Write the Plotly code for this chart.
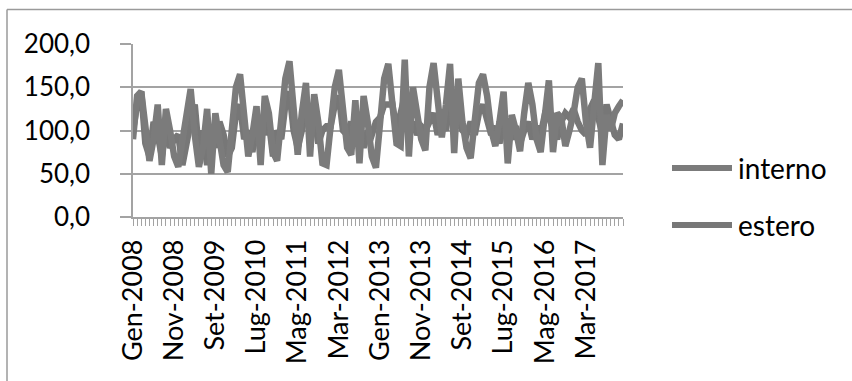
import plotly.graph_objects as go

# month labels (Italian), Gen-2008 .. Dic-2017
mesi = ["Gen", "Feb", "Mar", "Apr", "Mag", "Giu", "Lug", "Ago", "Set", "Ott", "Nov", "Dic"]
anni = list(range(2008, 2018))
categorie = [f"{m}-{a}" for a in anni for m in mesi]

interno = [
    90, 140, 145, 110, 65, 90, 130, 60, 125, 100, 70, 58,
    90, 120, 148, 95, 58, 80, 125, 50, 120, 90, 60, 52,
    100, 150, 165, 110, 70, 95, 128, 60, 140, 120, 75, 65,
    110, 160, 180, 120, 72, 120, 155, 70, 142, 110, 62, 60,
    100, 150, 170, 120, 80, 72, 135, 62, 140, 110, 70, 57,
    100, 160, 177, 130, 85, 82, 182, 70, 150, 120, 90, 77,
    150, 178, 140, 92, 130, 177, 74, 160, 110, 80, 68, 110,
    155, 165, 140, 100, 82, 110, 145, 62, 118, 100, 76, 120,
    155, 130, 90, 75, 120, 158, 75, 120, 115, 82, 100, 120,
    150, 160, 110, 80, 130, 178, 60, 118, 100, 120, 128, 135,
]

estero = [
    100, 130, 145, 85, 70, 110, 95, 70, 105, 80, 90, 95,
    60, 90, 110, 130, 75, 100, 60, 100, 80, 110, 95, 70,
    80, 120, 130, 90, 100, 75, 110, 115, 95, 110, 70, 100,
    90, 130, 145, 100, 80, 100, 125, 100, 120, 85, 100, 105,
    105, 130, 140, 100, 95, 110, 90, 100, 80, 100, 95, 110,
    115, 130, 130, 130, 100, 120, 140, 100, 110, 95, 105, 100,
    110, 120, 95, 110, 100, 135, 120, 110, 100, 95, 110, 95,
    120, 130, 110, 95, 105, 85, 110, 100, 90, 105, 85, 100,
    110, 90, 105, 95, 118, 115, 100, 90, 110, 120, 115, 125,
    110, 100, 95, 125, 135, 115, 95, 130, 110, 95, 90, 108,
]

y_ticks = [0, 50, 100, 150, 200]
y_labels = ["0,0", "50,0", "100,0", "150,0", "200,0"]
serie_nomi = ["interno", "estero"]

col_interno = "#7b7b7b"
col_estero = "#777777"
grid_col = "#a3a3a3"
FONT = "Lato"

x = list(range(len(categorie)))
xtext = [c if i % 10 == 0 else "" for i, c in enumerate(categorie)]

fig = go.Figure()
fig.add_trace(go.Scatter(x=x, y=estero, mode="lines", name=serie_nomi[1],
                         line=dict(color=col_estero, width=6.5), showlegend=False))
fig.add_trace(go.Scatter(x=x, y=interno, mode="lines", name=serie_nomi[0],
                         line=dict(color=col_interno, width=6.5), showlegend=False))

W, H = 852, 381
L, R, T, B = 133, 229, 44, 164
pw, ph = W - L - R, H - T - B


def px(xp):
    return (xp - L) / pw


def py(yp):
    return (H - B - yp) / ph


shapes = []
# outer chart border (left and top visible)
shapes.append(dict(type="line", xref="paper", yref="paper", x0=px(7), x1=px(7), y0=py(9.5), y1=py(385),
                   line=dict(color="#9a9a9a", width=1.5)))
shapes.append(dict(type="line", xref="paper", yref="paper", x0=px(7), x1=px(860), y0=py(9.5), y1=py(9.5),
                   line=dict(color="#9a9a9a", width=1.5)))

annotations = []
legend_y = [168, 225]
for name, col, ly in zip(serie_nomi, [col_interno, col_estero], legend_y):
    shapes.append(dict(type="line", xref="paper", yref="paper", x0=px(672), x1=px(732), y0=py(ly), y1=py(ly),
                       line=dict(color=col, width=6)))
    annotations.append(dict(xref="paper", yref="paper", x=px(736), y=py(ly), text=name, showarrow=False,
                            xanchor="left", yanchor="middle", font=dict(family=FONT, size=28, color="#000")))

fig.update_layout(
    width=W, height=H,
    margin=dict(l=L, r=R, t=T, b=B),
    paper_bgcolor="white", plot_bgcolor="white",
    shapes=shapes, annotations=annotations,
    showlegend=False,
    xaxis=dict(
        range=[0, len(categorie) - 1],
        tickmode="array", tickvals=x, ticktext=xtext,
        tickangle=-90, ticks="outside", ticklen=7, tickcolor=grid_col, tickwidth=1,
        showgrid=False, showline=True, linecolor=grid_col, linewidth=1.5,
        tickfont=dict(family=FONT, size=27, color="#000"),
        ticklabelstandoff=3,
        zeroline=False, fixedrange=True,
    ),
    yaxis=dict(
        range=[0, 200],
        tickmode="array", tickvals=y_ticks, ticktext=y_labels,
        ticks="outside", ticklen=11, tickcolor=grid_col, tickwidth=1.5,
        showgrid=True, gridcolor=grid_col, gridwidth=1.5,
        showline=True, linecolor=grid_col, linewidth=1.5,
        tickfont=dict(family=FONT, size=26, color="#000"),
        ticklabelstandoff=25,
        zeroline=False, fixedrange=True,
    ),
)

fig.write_html("out.html")
